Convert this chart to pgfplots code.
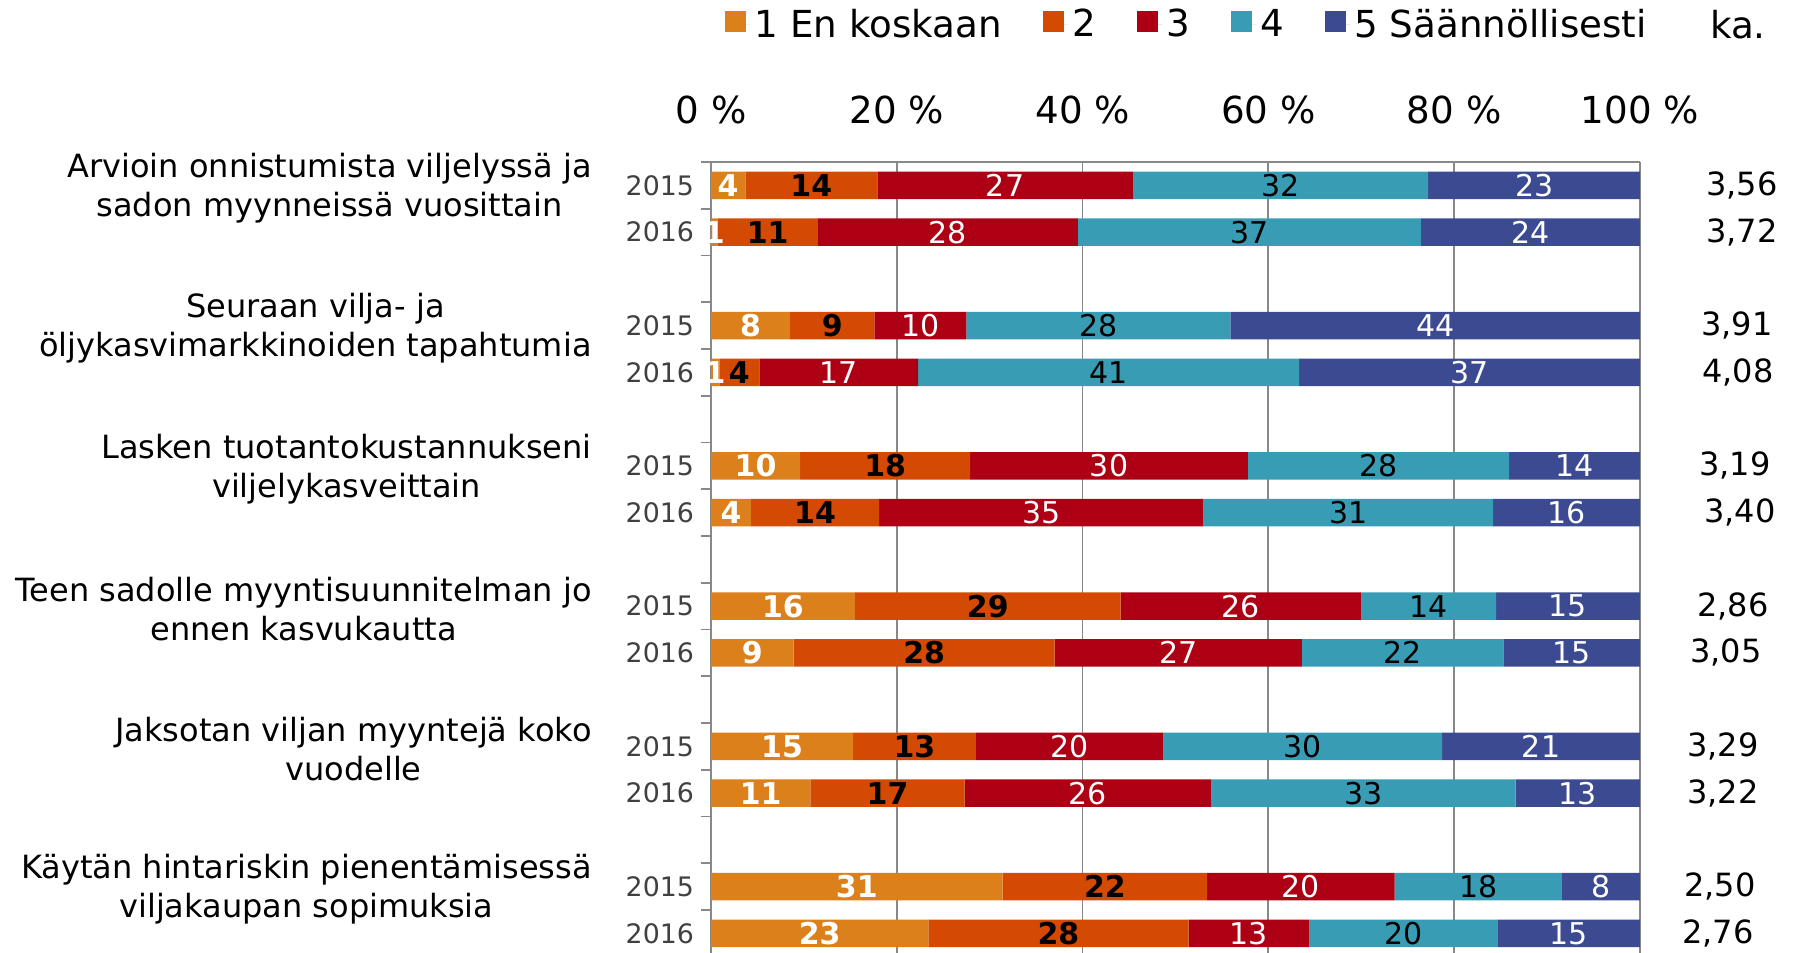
\documentclass[border=0pt]{standalone}
\usepackage{fontspec}
\setmainfont{DejaVu Sans}
\usepackage{pgfplots}
\usepackage{pgfplotstable}
\pgfplotsset{compat=1.18}

\definecolor{c1}{HTML}{DB801A}
\definecolor{c2}{HTML}{D44A03}
\definecolor{c3}{HTML}{AE0014}
\definecolor{c4}{HTML}{389DB4}
\definecolor{c5}{HTML}{3C4A92}
\definecolor{gridgray}{HTML}{888888}
\definecolor{yeargray}{HTML}{404040}

% shares (%) per row; y = slot position (0 at top)
\pgfplotstableread{
y     v1   v2   v3   v4   v5
-0.5  3.7  14.2 27.5 31.8 22.8
-1.5  0.7  10.8 28.0 36.9 23.6
-3.5  8.5  9.1  9.9  28.4 44.1
-4.5  0.9  4.3  17.1 41.0 36.7
-6.5  9.6  18.3 29.9 28.1 14.1
-7.5  4.3  13.8 34.9 31.2 15.8
-9.5  15.5 28.6 25.9 14.5 15.5
-10.5 8.9  28.1 26.6 21.7 14.7
-12.5 15.3 13.2 20.2 30.0 21.3
-13.5 10.7 16.6 26.5 32.8 13.4
-15.5 31.4 22.0 20.2 18.0 8.4
-16.5 23.4 28.0 13.0 20.3 15.3
}\shares

% printed labels, at the middle of each segment
\pgfplotstableread{
y     m1    m2    m3    m4    m5    l1 l2 l3 l4 l5
-0.5  1.85  10.8  31.65 61.3  88.6  4  14 27 32 23
-1.5  0.35  6.1   25.5  57.95 88.2  1  11 28 37 24
-3.5  4.25  13.05 22.55 41.7  77.95 8  9  10 28 44
-4.5  0.45  3.05  13.75 42.8  81.65 1  4  17 41 37
-6.5  4.8   18.75 42.85 71.85 92.95 10 18 30 28 14
-7.5  2.15  11.2  35.55 68.6  92.1  4  14 35 31 16
-9.5  7.75  29.8  57.05 77.25 92.25 16 29 26 14 15
-10.5 4.45  22.95 50.3  74.45 92.65 9  28 27 22 15
-12.5 7.65  21.9  38.6  63.7  89.35 15 13 20 30 21
-13.5 5.35  19.0  40.55 70.2  93.3  11 17 26 33 13
-15.5 15.7  42.4  63.5  82.6  95.8  31 22 20 18 8
-16.5 11.7  37.4  57.9  74.55 92.35 23 28 13 20 15
}\seglabels

\pgfplotsset{
  box/.style={
    at={(0,0)}, anchor=south west,
    scale only axis, width=464.5pt, height=395.5pt,
    xmin=0, xmax=100, ymin=-16.92, ymax=0,
    enlargelimits=false, clip=false,
  },
  lab/.style={draw=none, mark=none, nodes near coords,
    point meta=explicit symbolic,
    every node near coord/.append style={anchor=center, inner sep=0pt, #1}},
  sq legend/.style={
    legend image code/.code={\fill[##1] (0pt,-3.5pt) rectangle (10.5pt,7pt);
      \path (0pt,0pt) -- (12.8pt,0pt);}},
}

\begin{document}
\begin{tikzpicture}
\useasboundingbox (-355.5pt,0pt) rectangle (542.5pt,476.5pt);
\begin{axis}[
  box,
  xbar stacked, bar width=0.59,
  axis x line*=top, axis y line*=left,
  axis line style={draw=gridgray, line width=0.9pt},
  xtick={0,20,...,100},
  xticklabels={0 \%,20 \%,40 \%,60 \%,80 \%,100 \%},
  xticklabel style={font=\fontsize{18.6}{22}\selectfont, yshift=15.2pt},
  xmajorgrids, grid style={gridgray, line width=0.9pt},
  ytick={-0.5,-1.5,-3.5,-4.5,-6.5,-7.5,-9.5,-10.5,-12.5,-13.5,-15.5,-16.5},
  yticklabels={2015,2016,2015,2016,2015,2016,2015,2016,2015,2016,2015,2016},
  yticklabel style={font=\fontsize{13.4}{15}\selectfont, text=yeargray, xshift=-5pt},
  minor ytick={0,-1,...,-16},
  major tick length=0pt, minor tick length=5pt, tick align=outside,
  tick style={gridgray, line width=0.9pt},
  legend columns=-1,
  sq legend,
  legend style={at={(rel axis cs:0.0086,1.1738)}, anchor=west, draw=none, fill=none,
    font=\fontsize{18.6}{22}\selectfont,
    /tikz/every even column/.append style={column sep=18.4pt}},
]
\addplot[fill=c1, draw=none] table[x=v1, y=y] {\shares};
\addplot[fill=c2, draw=none] table[x=v2, y=y] {\shares};
\addplot[fill=c3, draw=none] table[x=v3, y=y] {\shares};
\addplot[fill=c4, draw=none] table[x=v4, y=y] {\shares};
\addplot[fill=c5, draw=none] table[x=v5, y=y] {\shares};
\legend{1 En koskaan,2,3,4,5 Säännöllisesti}
\end{axis}

% segment labels
\begin{axis}[box, hide axis]
\addplot[lab={text=white, font=\fontsize{15}{17}\selectfont\bfseries}] table[x=m1, y=y, meta=l1] {\seglabels};
\addplot[lab={text=black, font=\fontsize{15}{17}\selectfont\bfseries}] table[x=m2, y=y, meta=l2] {\seglabels};
\addplot[lab={text=white, font=\fontsize{15}{17}\selectfont}] table[x=m3, y=y, meta=l3] {\seglabels};
\addplot[lab={text=black, font=\fontsize{15}{17}\selectfont}] table[x=m4, y=y, meta=l4] {\seglabels};
\addplot[lab={text=white, font=\fontsize{15}{17}\selectfont}] table[x=m5, y=y, meta=l5] {\seglabels};
\end{axis}

% category labels
\begin{scope}[every node/.style={anchor=east, align=center, inner sep=0pt,
    font=\fontsize{16}{19.5}\selectfont}]
\node at (-59.5pt,382.3pt) {Arvioin onnistumista viljelyssä ja\\sadon myynneissä vuosittain};
\node at (-59.5pt,312.2pt) {Seuraan vilja- ja\\öljykasvimarkkinoiden tapahtumia};
\node at (-59.5pt,242.1pt) {Lasken tuotantokustannukseni\\viljelykasveittain};
\node at (-59.5pt,171.9pt) {Teen sadolle myyntisuunnitelman jo\\ennen kasvukautta};
\node at (-59.5pt,101.8pt) {Jaksotan viljan myyntejä koko\\vuodelle};
\node at (-59.5pt,31.7pt) {Käytän hintariskin pienentämisessä\\viljakaupan sopimuksia};
\end{scope}

% means (ka.)
\node[font=\fontsize{18.6}{22}\selectfont] at (513.5pt,464pt) {ka.};
\begin{scope}[every node/.style={font=\fontsize{16}{19}\selectfont}]
\node at (515.5pt,383.81pt) {3,56};
\node at (515.5pt,360.44pt) {3,72};
\node at (513.0pt,313.69pt) {3,91};
\node at (513.5pt,290.31pt) {4,08};
\node at (512.0pt,243.56pt) {3,19};
\node at (514.5pt,220.19pt) {3,40};
\node at (511.0pt,173.44pt) {2,86};
\node at (507.5pt,150.06pt) {3,05};
\node at (506.0pt,103.31pt) {3,29};
\node at (506.0pt,79.94pt) {3,22};
\node at (504.5pt,33.19pt) {2,50};
\node at (503.5pt,9.81pt) {2,76};
\end{scope}
\end{tikzpicture}
\end{document}
